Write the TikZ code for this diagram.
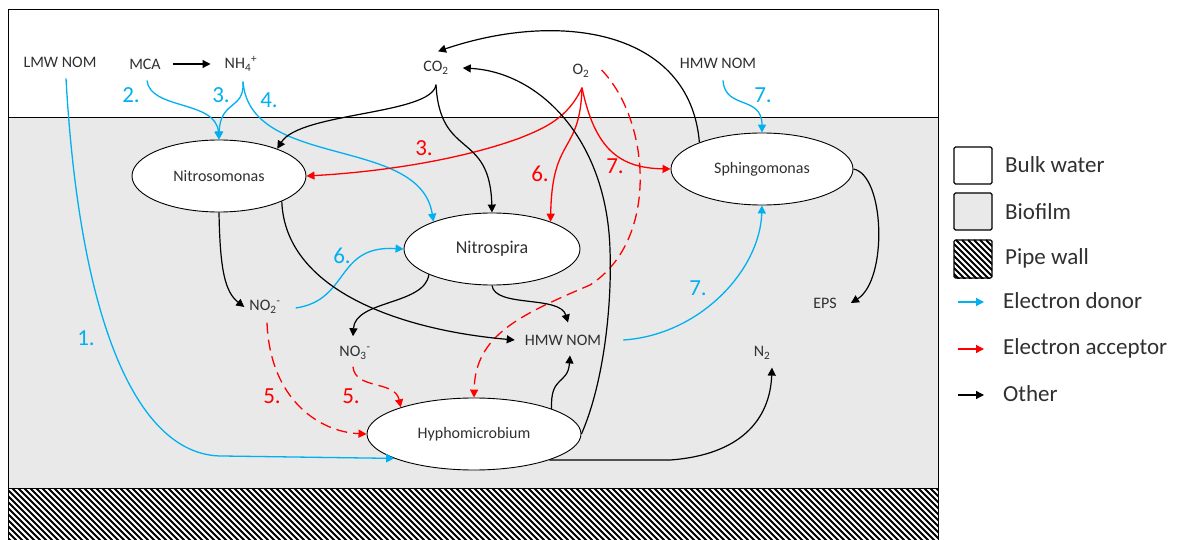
\documentclass[tikz,border=0pt]{standalone}
\usepackage{fontspec}
\setmainfont{Carlito}
\usetikzlibrary{shapes.geometric,arrows.meta,calc}
\definecolor{donorblue}{HTML}{00B0F0}
\definecolor{accred}{HTML}{FF0000}
\definecolor{biofilm}{HTML}{E9E9E9}
\definecolor{txt}{HTML}{303030}
\newcommand\chemss[2]{\textsubscript{#1}\textsuperscript{#2}}
\tikzset{
  lbl/.style={font=\fontsize{16}{18}\selectfont, text=txt, inner sep=0pt},
  num/.style={font=\fontsize{23}{25}\selectfont, inner sep=0pt},
  org/.style={ellipse, draw=black, fill=white, line width=0.9pt, inner sep=0pt,
              font=\fontsize{16}{18}\selectfont, text=txt},
  headstyle/.style={-{Triangle[length=8pt,width=8pt]}},
  donor/.style={draw=donorblue, line width=1.3pt, headstyle},
  acceptor/.style={draw=accred, line width=1.3pt, headstyle},
  acceptordash/.style={acceptor, dash pattern=on 11pt off 6pt},
  other/.style={draw=black, line width=1.2pt, headstyle},
  legtext/.style={font=\fontsize{23}{25}\selectfont, text=txt, anchor=west, inner sep=0pt},
  legbox/.style={draw=black, line width=1.2pt, rounded corners=1.5pt},
  hatchline/.style={line width=2.1pt, black},
  frameline/.style={line width=0.9pt, black},
}
\begin{document}
\begin{tikzpicture}[x=1pt,y=-1pt]
\useasboundingbox (0,0) rectangle (1181,540);
\fill[white] (0,0) rectangle (1181,540);
% zones
\fill[biofilm] (8,117) rectangle (938,488);
\begin{scope}
  \clip (8,488) rectangle (938,540);
  \foreach \i in {0,...,175} \draw[hatchline] ({\i*6-60},488) -- ++(70,70);
\end{scope}
\draw[frameline] (8,540) -- (8,9) -- (938,9) -- (938,540);
\draw[frameline] (8,117) -- (938,117);
\draw[frameline] (8,488) -- (938,488);

% legend
\draw[legbox, fill=white] (954,147) rectangle (992,184);
\draw[legbox, fill=biofilm] (954,193) rectangle (992,230);
\begin{scope}
  \clip (954,240) rectangle (992,278);
  \foreach \i in {0,...,16} \draw[hatchline] ({954+\i*6-40},240) -- ++(45,45);
\end{scope}
\draw[legbox] (954,240) rectangle (992,278);
\node[legtext] (lgbulk) at (1005,165) {Bulk water};
\node[legtext] (lgbio) at (1005,212) {Biofilm};
\node[legtext] (lgpipe) at (1005,258) {Pipe wall};
\node[legtext] (lgdon) at (1003,301) {Electron donor};
\node[legtext] (lgacc) at (1003,348) {Electron acceptor};
\node[legtext] (lgoth) at (1003,394) {Other};
\coordinate (ld1) at (958,302); \coordinate (ld2) at (984,302);
\coordinate (la1) at (958,349); \coordinate (la2) at (984,349);
\coordinate (lo1) at (958,395); \coordinate (lo2) at (984,395);
\draw[donor] (ld1) -- (ld2);
\draw[acceptor] (la1) -- (la2);
\draw[other] (lo1) -- (lo2);

% organisms
\node[org, minimum width=174pt, minimum height=72pt] (nitroso) at (219,176) {Nitrosomonas};
\node[org, minimum width=176pt, minimum height=72pt, font=\fontsize{18}{20}\selectfont] (nitrospira) at (492,249) {Nitrospira};
\node[org, minimum width=182pt, minimum height=72pt] (sphingo) at (762,169) {Sphingomonas};
\node[org, minimum width=214pt, minimum height=72pt] (hypho) at (474,434) {Hyphomicrobium};

% compounds
\node[lbl] (lmw) at (60,62) {LMW NOM};
\node[lbl] (mca) at (145,64) {MCA};
\node[lbl] (nh4) at (241,64) {NH\chemss{4}{+}};
\node[lbl] (co2) at (436,68) {CO\textsubscript{2}};
\node[lbl] (o2) at (581,71) {O\textsubscript{2}};
\node[lbl] (hmwtop) at (718,63) {HMW NOM};
\node[lbl] (no2) at (265,307) {NO\chemss{2}{-}};
\node[lbl] (no3) at (355,353) {NO\chemss{3}{-}};
\node[lbl] (hmwmid) at (563,340) {HMW NOM};
\node[lbl] (eps) at (825,303) {EPS};
\node[lbl] (n2) at (762,353) {N\textsubscript{2}};

% numbers
\node[num, text=donorblue] (b1) at (86,338) {1.};
\node[num, text=donorblue] (b2) at (131,95) {2.};
\node[num, text=donorblue] (b3) at (221,95) {3.};
\node[num, text=donorblue] (b4) at (269,100) {4.};
\node[num, text=donorblue] (b7a) at (763,95) {7.};
\node[num, text=donorblue] (b6) at (342,256) {6.};
\node[num, text=donorblue] (b7b) at (698,288) {7.};
\node[num, text=accred] (r3) at (424,148) {3.};
\node[num, text=accred] (r6) at (540,174) {6.};
\node[num, text=accred] (r7) at (615,166) {7.};
\node[num, text=accred] (r5a) at (272,396) {5.};
\node[num, text=accred] (r5b) at (351,396) {5.};

% electron donors
\draw[donor] ($(lmw.south)+(6,11)$) .. controls (80,330) and (140,456) .. (222,456) -- (hypho.197);
\draw[donor] ($(mca.south)+(2,11)$) .. controls (150,110) and (216,100) .. (nitroso.north);
\draw[donor] ($(nh4.south)+(2,10)$) .. controls (245,110) and (220,100) .. (nitroso.north);
\draw[donor] ($(nh4.south)+(2,10)$) .. controls (250,170) and (420,135) .. (nitrospira.155);
\draw[donor] ($(no2.east)+(15,1)$) .. controls (350,300) and (335,245) .. (nitrospira.west);
\draw[donor] ($(hmwtop.south)+(5,12)$) .. controls (725,110) and (762,95) .. (sphingo.north);
\draw[donor] ($(hmwmid.east)+(22,0)$) .. controls (700,335) and (760,270) .. (sphingo.south);

% electron acceptors
\draw[acceptor] ($(o2.south)+(1,10)$) .. controls (568,118) and (545,128) .. (520,138)
   .. controls (460,160) and (380,172) .. (nitroso.east);
\draw[acceptor] ($(o2.south)+(1,10)$) .. controls (580,155) and (552,135) .. (nitrospira.25);
\draw[acceptor] ($(o2.south)+(1,10)$) .. controls (595,150) and (620,168) .. (sphingo.west);
\draw[acceptordash] ($(o2.east)+(12,-1)$) .. controls (650,120) and (660,240) .. (590,285)
   .. controls (520,315) and (475,335) .. (hypho.north);
\draw[acceptordash] ($(no2.south)+(2,9)$) .. controls (270,400) and (320,432) .. (hypho.west);
\draw[acceptordash] ($(no3.south)+(-2,7)$) .. controls (355,390) and (395,380) .. (hypho.160);

% other
\draw[other, shorten <=12pt, shorten >=14pt] (mca.east) -- (mca.east -| nh4.west);
\draw[other] ($(co2.south)+(0,10)$) .. controls (432,115) and (300,112) .. (nitroso.25);
\draw[other] ($(co2.south)+(0,10)$) .. controls (440,160) and (490,130) .. (nitrospira.north);
\draw[other] (sphingo.157) .. controls (690,30) and (560,10) .. ($(co2.north)+(2,-10)$);
\draw[other] (hypho.east) .. controls (605,380) and (612,300) .. (610,250)
   .. controls (607,140) and (540,72) .. ($(co2.east)+(14,0)$);
\draw[other] (nitroso.south) .. controls (220,270) and (225,292) .. ($(no2.west)+(-5,0)$);
\draw[other] (nitroso.-22) .. controls (285,290) and (400,330) .. ($(hmwmid.west)+(-10,0)$);
\draw[other] (nitrospira.202) .. controls (425,305) and (355,300) .. ($(no3.north)+(-2,-10)$);
\draw[other] (nitrospira.south) .. controls (495,308) and (560,295) .. ($(hmwmid.north)+(5,-12)$);
\draw[other] (hypho.18) .. controls (550,375) and (568,385) .. ($(hmwmid.south)+(7,10)$);
\draw[other] (hypho.-19) -- (670,460) .. controls (740,455) and (770,420) .. ($(n2.south)+(10,8)$);
\draw[other] (sphingo.east) .. controls (885,175) and (888,280) .. ($(eps.east)+(14,0)$);
\end{tikzpicture}
\end{document}
